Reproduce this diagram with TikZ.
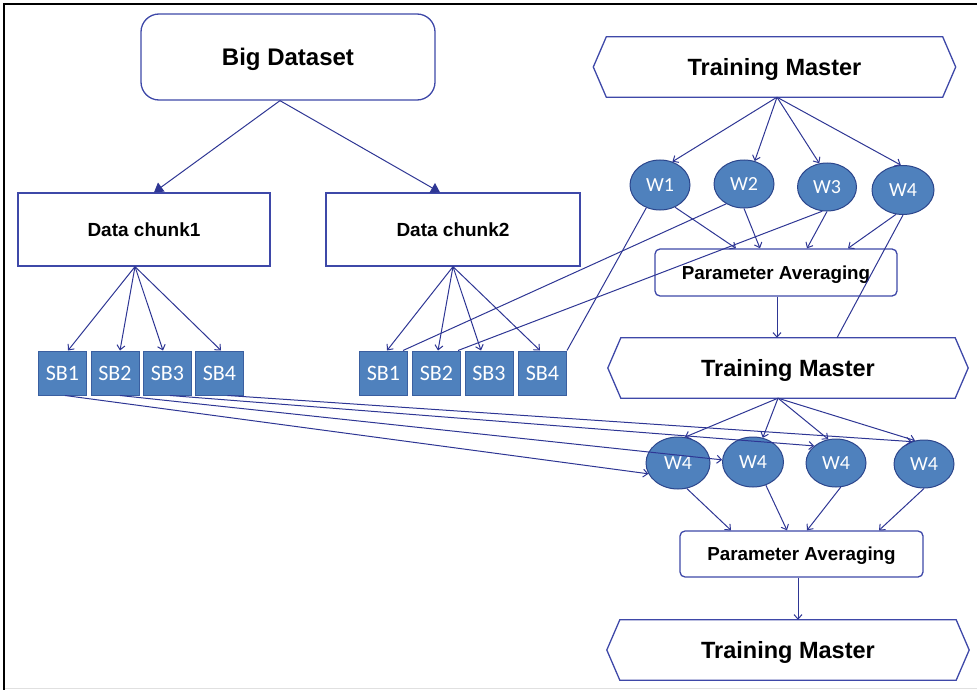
\documentclass[tikz,border=0pt]{standalone}
\usepackage{fontspec}
\setmainfont{Liberation Sans}
\newfontfamily\wfont{Carlito}
\usetikzlibrary{arrows.meta,shapes.geometric}
\definecolor{linecol}{RGB}{46,54,148}
\definecolor{edgecol}{RGB}{62,72,168}
\definecolor{bluefill}{RGB}{79,129,189}
\definecolor{sbedge}{RGB}{58,95,160}
\definecolor{elledge}{RGB}{44,70,140}
\tikzset{
  conn/.style={draw=linecol, line width=1pt},
  arr/.style={conn, -{Straight Barb[length=4.5pt,width=8pt,line width=1pt]}},
  bigarr/.style={conn, -{Triangle[length=9pt,width=11pt]}},
  title/.style={font=\bfseries\fontsize{24}{28}\selectfont, text height=17.2pt, text depth=0pt},
  chunk/.style={draw=edgecol, line width=1.3pt, minimum width=252pt, minimum height=73pt, inner sep=0pt, font=\bfseries\fontsize{19}{22}\selectfont, text height=13.6pt, text depth=0pt},
  avgbox/.style={draw=edgecol, line width=1.3pt, rounded corners=5pt, minimum width=242pt, minimum height=47pt, inner sep=0pt, font=\bfseries\fontsize{18.8}{21}\selectfont, text height=13.4pt, text depth=0pt},
  hextext/.style={minimum width=362pt, minimum height=60pt, inner sep=0pt, font=\bfseries\fontsize{23.5}{27}\selectfont, text height=16.8pt, text depth=0pt},
  hexline/.style={draw=edgecol, line width=1.3pt},
  sbbox/.style={fill=bluefill, draw=sbedge, line width=1pt, minimum width=48pt, minimum height=44pt, inner sep=0pt, text=white, font=\wfont\fontsize{22}{24}\selectfont, text height=14pt, text depth=0pt},
  worker/.style={ellipse, fill=bluefill, draw=elledge, line width=1pt, inner sep=0pt, text=white, font=\wfont\fontsize{20}{22}\selectfont, text height=12.8pt, text depth=0pt},
}
\newcommand\hexoutline[1]{%
  \draw[hexline] (#1.west) -- ([xshift=13pt]#1.north west) -- ([xshift=-13pt]#1.north east) -- (#1.east) -- ([xshift=-13pt]#1.south east) -- ([xshift=13pt]#1.south west) -- cycle;}
\begin{document}
\begin{tikzpicture}[x=1pt,y=-1pt]
\useasboundingbox (0,0) rectangle (977,690);
% frame
\draw[line width=2.5pt, black] (4,690) -- (4,4) -- (977,4);
\draw[black!12, line width=1pt] (5,688.5) -- (977,688.5);

% left tree
\node[draw=edgecol, line width=1.3pt, rounded corners=18pt, minimum width=294pt, minimum height=86pt, inner sep=0pt, title] (big) at (288,57) {Big Dataset};
\node[chunk] (dc1) at (144,229.5) {Data chunk1};
\node[chunk, minimum width=254pt] (dc2) at (453,229.5) {Data chunk2};

\node[sbbox] (l1) at (62.5,373) {SB1};
\node[sbbox] (l2) at (115,373) {SB2};
\node[sbbox] (l3) at (167.5,373) {SB3};
\node[sbbox] (l4) at (219.5,373) {SB4};
\node[sbbox] (r1) at (383.5,373) {SB1};
\node[sbbox] (r2) at (436.5,373) {SB2};
\node[sbbox] (r3) at (489,373) {SB3};
\node[sbbox] (r4) at (542.5,373) {SB4};

% right column
\node[hextext] (tm1) at (774.5,67) {Training Master};
\hexoutline{tm1}
\node[worker, minimum width=60pt, minimum height=50pt] (w1) at (660,185) {W1};
\node[worker, minimum width=60pt, minimum height=48pt] (w2) at (744,184) {W2};
\node[worker, minimum width=59pt, minimum height=48pt] (w3) at (827,187) {W3};
\node[worker, minimum width=62pt, minimum height=49pt] (w4) at (903,190) {W4};
\node[avgbox] (pa1) at (776,272.5) {Parameter Averaging};
\node[hextext, minimum width=360pt] (tm2) at (788,368) {Training Master};
\hexoutline{tm2}
\node[worker, minimum width=64pt, minimum height=52pt] (e1) at (678,463) {W4};
\node[worker, minimum width=61pt, minimum height=50pt] (e2) at (753,462) {W4};
\node[worker, minimum width=60pt, minimum height=48pt] (e3) at (836,463) {W4};
\node[worker, minimum width=60pt, minimum height=48pt] (e4) at (924,464) {W4};
\node[avgbox, minimum width=243pt, minimum height=46pt] (pa2) at (801.5,554) {Parameter Averaging};
\node[hextext] (tm3) at (788,650) {Training Master};
\hexoutline{tm3}

% big dataset to chunks
\draw[bigarr] ([xshift=-8pt]big.south) -- ([xshift=10pt]dc1.north);
\draw[bigarr] ([xshift=-8pt]big.south) -- ([xshift=-13pt]dc2.north);

% chunks to SBs
\draw[arr] ([xshift=-9pt]dc1.south) -- ([xshift=5.5pt]l1.north);
\draw[arr] ([xshift=-9pt]dc1.south) -- ([xshift=5pt]l2.north);
\draw[arr] ([xshift=-9pt]dc1.south) -- ([xshift=-4.5pt]l3.north);
\draw[arr] ([xshift=-9pt]dc1.south) -- ([xshift=1.5pt]l4.north);
\draw[arr] (dc2.south) -- ([xshift=3.5pt]r1.north);
\draw[arr] (dc2.south) -- ([xshift=1.5pt]r2.north);
\draw[arr] (dc2.south) -- ([xshift=-8pt]r3.north);
\draw[arr] (dc2.south) -- ([xshift=-2.5pt]r4.north);

% master to workers
\draw[arr] ([xshift=2.5pt]tm1.south) -- (w1.62);
\draw[arr] ([xshift=2.5pt]tm1.south) -- (w2.65);
\draw[arr] ([xshift=2.5pt]tm1.south) -- (w3.108);
\draw[arr] ([xshift=2.5pt]tm1.south) -- (w4.95);

% workers to averaging
\draw[arr] (w1.-56) -- ([xshift=-40pt]pa1.north);
\draw[arr] (w2.south) -- ([xshift=-16pt]pa1.north);
\draw[arr] (w3.south) -- ([xshift=31pt]pa1.north);
\draw[arr] (w4.-106) -- ([xshift=72pt]pa1.north);

% workers to right SBs
\draw[conn] (w1.-121) -- (r4.north east);
\draw[conn] (w2.-132) -- ([xshift=-5pt]r1.north east);
\draw[conn] (w3.-101) -- ([xshift=-3pt]r2.north east);
\draw[conn] (w4.south) -- ([xshift=49pt]tm2.north);

\draw[arr] ([xshift=1pt]pa1.south) -- ([xshift=1pt]pa1.south |- tm2.north);

% second master to workers
\draw[arr] ([xshift=-10pt]tm2.south) -- (e1.75);
\draw[arr] ([xshift=-10pt]tm2.south) -- (e2.68);
\draw[arr] ([xshift=-10pt]tm2.south) -- (e3.108);
\draw[arr] ([xshift=-10pt]tm2.south) -- (e4.111);

% left SBs to second workers
\draw[arr] ([xshift=2.5pt]l1.south) -- (e1.-160);
\draw[arr] ([xshift=5pt]l2.south) -- (e2.176);
\draw[arr] ([xshift=2.5pt]l3.south) -- (e3.142);
\draw[arr] ([xshift=8pt]l4.south) -- (e4.119);

% second workers to averaging
\draw[arr] (e1.-71) -- ([xshift=-70.5pt]pa2.north);
\draw[arr] (e2.-61) -- ([xshift=-14.5pt]pa2.north);
\draw[arr] (e3.-79) -- ([xshift=5.5pt]pa2.north);
\draw[arr] (e4.south) -- ([xshift=77.5pt]pa2.north);

\draw[arr] ([xshift=-3.5pt]pa2.south) -- ([xshift=-3.5pt]pa2.south |- tm3.north);
\end{tikzpicture}
\end{document}
